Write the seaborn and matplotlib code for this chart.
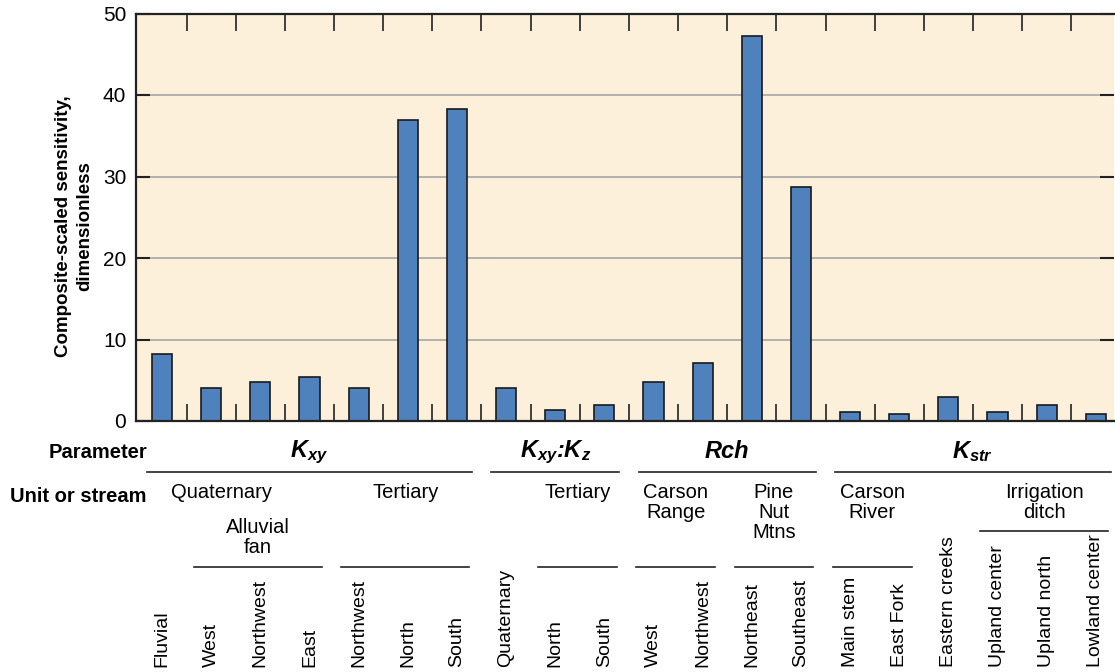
import numpy as np
import pandas as pd
import matplotlib
matplotlib.use('Agg')
import matplotlib.pyplot as plt
import matplotlib.transforms as mtransforms
from matplotlib.lines import Line2D
import seaborn as sns

# bars, left to right
units = ['Fluvial', 'West', 'Northwest', 'East', 'Northwest', 'North', 'South',
         'Quaternary', 'North', 'South', 'West', 'Northwest', 'Northeast', 'Southeast',
         'Main stem', 'East Fork', 'Eastern creeks', 'Upland center', 'Upland north',
         'Lowland center']
css = [8.2, 4.0, 4.8, 5.4, 4.0, 36.9, 38.3, 4.0, 1.4, 2.0, 4.8, 7.1, 47.3, 28.7,
       1.1, 0.9, 2.9, 1.1, 2.0, 0.9]

# parameter groups: label, first bar, last bar
param_groups = [(r'$K_{xy}$', 0, 6), (r'$K_{xy}$:$K_z$', 7, 9),
                ('Rch', 10, 13), (r'$K_{str}$', 14, 19)]
# unit headings: label, first bar, last bar, top of text (px), rule under it (px or None)
unit_heads = [('Quaternary', 0, 2.5, 483, None),
              ('Tertiary', 4, 6, 483, 567),
              ('Alluvial\nfan', 1, 3, 518, 567),
              ('Tertiary', 8, 9, 483, 567),
              ('Carson\nRange', 10, 11, 483, 567),
              ('Pine\nNut\nMtns', 12, 13, 483, 567),
              ('Carson\nRiver', 14, 15, 483, 567),
              ('Irrigation\nditch', 17, 19, 483, 531)]

plt.rcParams['font.family'] = ['Liberation Sans', 'DejaVu Sans']
plt.rcParams['mathtext.fontset'] = 'custom'
plt.rcParams['mathtext.it'] = 'Liberation Sans:italic:bold'
plt.rcParams['mathtext.rm'] = 'Liberation Sans:bold'
plt.rcParams['mathtext.bf'] = 'Liberation Sans:bold'

W, H = 1115, 672
fig = plt.figure(figsize=(W / 100, H / 100), dpi=100)
ax = fig.add_axes([136 / W, 1 - 421 / H, (1114 - 136) / W, (421 - 13.5) / H])
ax.set_facecolor('#FDF0DA')

df = pd.DataFrame({'bar': range(len(css)), 'css': css})
sns.barplot(data=df, x='bar', y='css', color='#4F81BD', saturation=1, width=0.41,
            edgecolor='#1a1a1a', linewidth=1.2, ax=ax)

ax.set_xlim(-0.53, 19.37)
ax.set_ylim(0, 50)
ax.set_yticks([0, 10, 20, 30, 40, 50])
ax.set_xticks([])
ax.set_xticks(np.arange(0.5, len(css) - 1, 1), minor=True)
ax.tick_params(axis='x', which='minor', direction='in', length=12.5, width=1.2,
               top=True, bottom=True, color='#222')
ax.tick_params(axis='y', which='major', direction='in', length=10, width=1.5,
               labelsize=15, pad=7, left=True, right=True, color='#222')
ax.set_xlabel('')
ax.set_ylabel('')
ax.grid(axis='y', color='#A0A0A0', linewidth=1.1)
ax.set_axisbelow(True)
for s in ['left', 'bottom', 'top']:
    ax.spines[s].set_linewidth(1.6)
    ax.spines[s].set_color('#222')
ax.spines['right'].set_visible(False)

fig.text(74 / W, 1 - 226 / H, 'Composite-scaled sensitivity,\ndimensionless',
         rotation=90, ha='center', va='center', multialignment='center',
         fontsize=13.5, fontweight='bold', linespacing=1.3)

def fy(py):
    return 1 - py / H

trans = mtransforms.blended_transform_factory(ax.transData, fig.transFigure)

fig.text(147 / W, fy(452), 'Parameter', ha='right', va='center', fontsize=14.5, fontweight='bold')
fig.text(147 / W, fy(497), 'Unit or stream', ha='right', va='center', fontsize=14.5, fontweight='bold')

for label, a, b in param_groups:
    x0, x1 = a - 0.3, b + 0.3
    fig.text((x0 + x1) / 2, fy(452), label, transform=trans, ha='center', va='center',
             fontsize=17, fontweight='bold', style='italic')
    fig.add_artist(Line2D([x0, x1], [fy(472), fy(472)], transform=trans,
                          color='#222', linewidth=1.2))

for label, a, b, top, rule in unit_heads:
    x0, x1 = a - 0.35, b + 0.25
    fig.text((x0 + x1) / 2, fy(top), label, transform=trans, ha='center', va='top',
             multialignment='center', fontsize=14.5, linespacing=1.05)
    if rule is not None:
        fig.add_artist(Line2D([x0, x1], [fy(rule), fy(rule)], transform=trans,
                              color='#222', linewidth=1.2))

for i, name in enumerate(units):
    fig.text(i, fy(667), name, transform=trans, rotation=90, ha='center', va='bottom',
             fontsize=14)

fig.savefig('out.png', dpi=100)
